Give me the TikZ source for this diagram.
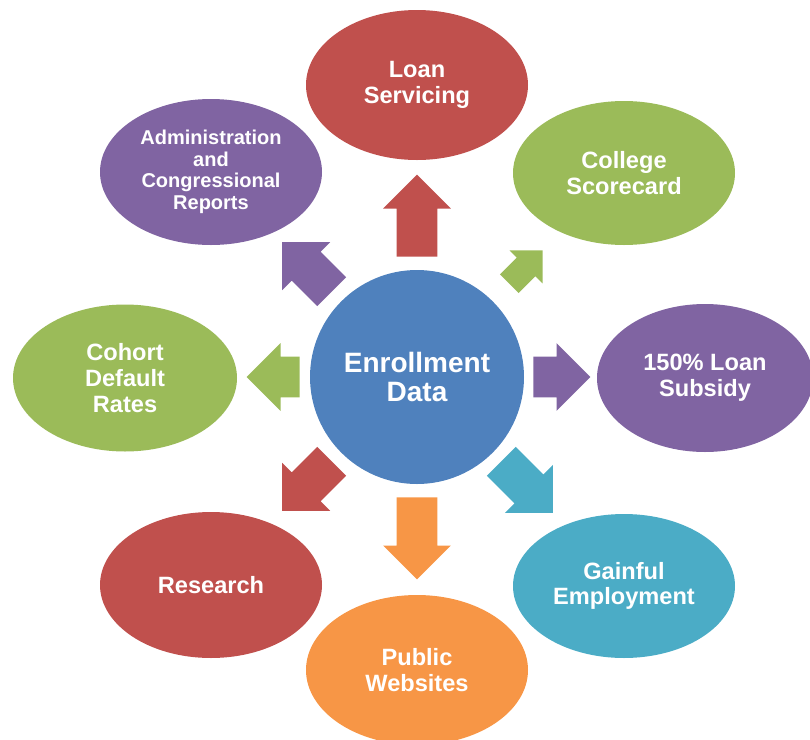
\documentclass[tikz,border=0pt]{standalone}
\usepackage{fontspec}
\setmainfont{Liberation Sans}
\usetikzlibrary{shapes.geometric,shapes.arrows}
\definecolor{offRed}{RGB}{192,80,77}
\definecolor{offGreen}{RGB}{155,187,89}
\definecolor{offPurple}{RGB}{128,100,162}
\definecolor{offBlue}{RGB}{79,129,189}
\definecolor{offTeal}{RGB}{75,172,198}
\definecolor{offOrange}{RGB}{247,150,70}
\tikzset{
  bubble/.style={ellipse, fill=#1, text=white, align=center, inner sep=0pt,
    minimum width=111pt, minimum height=73pt,
    font=\fontsize{11.8}{12.8}\selectfont\bfseries},
  blockarrow/.style={single arrow, fill=#1, draw=none, inner xsep=0pt, inner ysep=10pt,
    single arrow head extend=6.75pt, single arrow tip angle=90, anchor=tail},
}
\begin{document}
\begin{tikzpicture}[x=0.5pt,y=0.5pt,yscale=-1,xscale=1]
\useasboundingbox (0,0) rectangle (810,740);

% hub
\node [circle, fill=offBlue, text=white, align=center, inner sep=0pt, minimum size=107pt,
  font=\fontsize{14}{14.5}\selectfont\bfseries] (data) at (417,377) {Enrollment\\Data};

% outer ellipses
\node [bubble=offRed, minimum height=75pt] (loan) at (417,85) {Loan\\Servicing};
\node [bubble=offGreen, minimum height=72pt] (college) at (624,173) {College\\Scorecard};
\node [bubble=offPurple, minimum width=108pt, minimum height=74pt] (subsidy) at (705,378) {150\% Loan\\Subsidy};
\node [bubble=offTeal, minimum height=72pt] (gainful) at (624,586) {Gainful\\Employment};
\node [bubble=offOrange, minimum height=75pt] (websites) at (417,670) {Public\\Websites};
\node [bubble=offRed] (research) at (211,585) {Research};
\node [bubble=offGreen, minimum width=112pt, minimum height=73.5pt] (cohort) at (125,378) {Cohort\\Default\\Rates};
\node [bubble=offPurple, font=\fontsize{10}{10.8}\selectfont\bfseries] (admin) at (211,172) {Administration\\and\\Congressional\\Reports};

% arrows, placed by their tails
\node [blockarrow=offRed, minimum height=41pt, rotate=90] (toLoan) at (417,257) {};
\node [blockarrow=offGreen, minimum height=23.5pt, inner ysep=6.4pt, single arrow head extend=5pt, rotate=45] (toCollege) at (509,284) {};
\node [blockarrow=offPurple, minimum height=28.5pt] (toSubsidy) at (533,377) {};
\node [blockarrow=offTeal, minimum height=36.5pt, rotate=-45] (toGainful) at (501,461) {};
\node [blockarrow=offOrange, minimum height=41pt, rotate=-90] (toWebsites) at (417,497) {};
\node [blockarrow=offRed, minimum height=35pt, rotate=-135] (toResearch) at (332,461) {};
\node [blockarrow=offGreen, minimum height=26.5pt, rotate=180] (toCohort) at (300,377) {};
\node [blockarrow=offPurple, minimum height=35pt, rotate=135] (toAdmin) at (332,292) {};

\end{tikzpicture}
\end{document}
